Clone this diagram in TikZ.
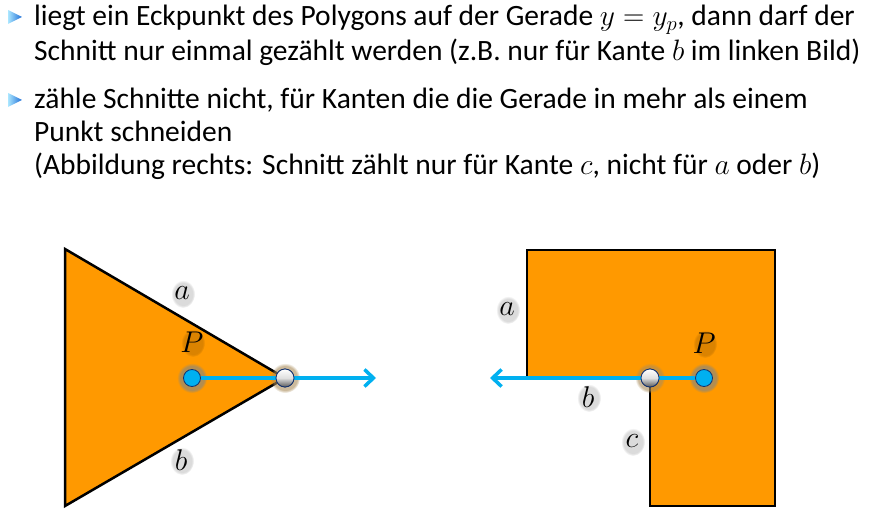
\RequirePackage{fix-cm}
\documentclass[tikz,border=0pt]{standalone}
\usepackage{fontspec}
\setmainfont{Carlito}
\usetikzlibrary{arrows.meta, positioning, calc, fadings}
\definecolor{polyorange}{RGB}{255,153,0}
\definecolor{raycolor}{RGB}{0,176,240}
\definecolor{pointborder}{RGB}{20,50,110}
\definecolor{glowcolor}{RGB}{170,140,90}
\definecolor{bulletlight}{RGB}{170,230,255}
\definecolor{bulletdark}{RGB}{30,110,215}

\tikzset{
  textline/.style={anchor=base west, inner sep=0pt, font=\fontsize{29.5}{34}\selectfont},
  polygon/.style={draw=black, line width=2.5pt, fill=polyorange, line join=miter},
  ray/.style={draw=raycolor, line width=3.5pt},
  raytip/.style={-{Straight Barb[length=9pt,width=17pt]}},
  pointP/.style={circle, draw=pointborder, line width=0.8pt, fill=raycolor, minimum size=17pt, inner sep=0pt},
  hitpoint/.style={circle, draw=pointborder, line width=0.8pt, top color=white, bottom color=black!65, middle color=gray!25, minimum size=18pt, inner sep=0pt},
  edgelabel/.style={inner sep=0pt, font=\fontsize{30}{30}\selectfont},
  softglow/.style={path fading=circle with fuzzy edge 20 percent}
}

% label with soft gray shadow
\newcommand{\shadowlabel}[3]{%
  \fill[black, opacity=0.14, softglow] ($(#1)+(1pt,-1pt)$) ellipse (12pt and 14pt);
  \node[edgelabel] (#2) at (#1) {$#3$};
}

\newcommand{\bullettri}[1]{%
  \shade[left color=bulletlight, right color=bulletdark] ($(#1)+(-7pt,7pt)$) -- ($(#1)+(7pt,0pt)$) -- ($(#1)+(-7pt,-7pt)$) -- cycle;
}

\begin{document}
\begin{tikzpicture}[x=1pt, y=1pt]
  \useasboundingbox (0,0) rectangle (877,525);

  % bullets and text
  \bullettri{15,508}
  \node[textline] (lineA) at (34,499) {liegt ein Eckpunkt des Polygons auf der Gerade $y=y_p$, dann darf der};
  \node[textline] (lineB) at (34,464) {Schnitt nur einmal gezählt werden (z.B. nur für Kante $b$ im linken Bild)};
  \bullettri{15,425}
  \node[textline] (lineC) at (34,416) {zähle Schnitte nicht, für Kanten die die Gerade in mehr als einem};
  \node[textline] (lineD) at (34,383) {Punkt schneiden};
  \node[textline] (lineE) at (34,350) {(Abbildung rechts: Schnitt zählt nur für Kante $c$, nicht für $a$ oder $b$)};

  % left picture: triangle
  \draw[polygon] (65,276) -- (285,147) -- (65,19) -- cycle;
  \fill[glowcolor, opacity=0.9, softglow] (192,147) circle (15pt);
  \node[pointP] (P1) at (192,147) {};
  \fill[glowcolor, opacity=0.6, softglow] (285,147) circle (15pt);
  \node[hitpoint] (S1) at (285,147) {};
  \coordinate (E1) at (376,147);
  \draw[ray] (P1) -- (S1);
  \draw[ray, raytip] (S1) -- (E1);
  \node[hitpoint] at (S1) {};
  \shadowlabel{182,232}{a1}{a}
  \shadowlabel{192,183}{p1}{P}
  \shadowlabel{181,65}{b1}{b}

  % right picture: notched rectangle
  \draw[polygon] (527,275) -- (775,275) -- (775,19) -- (650,19) -- (650,147) -- (527,147) -- cycle;
  \fill[glowcolor, opacity=0.9, softglow] (704,147) circle (15pt);
  \node[pointP] (P2) at (704,147) {};
  \fill[glowcolor, opacity=0.6, softglow] (650,147) circle (15pt);
  \node[hitpoint] (S2) at (650,147) {};
  \coordinate (E2) at (490,147);
  \draw[ray] (P2) -- (S2);
  \draw[ray, raytip] (S2) -- (E2);
  \node[hitpoint] at (S2) {};
  \shadowlabel{507,216}{a2}{a}
  \shadowlabel{704,182}{p2}{P}
  \shadowlabel{588,128}{b2}{b}
  \shadowlabel{632,84}{c2}{c}
\end{tikzpicture}
\end{document}
